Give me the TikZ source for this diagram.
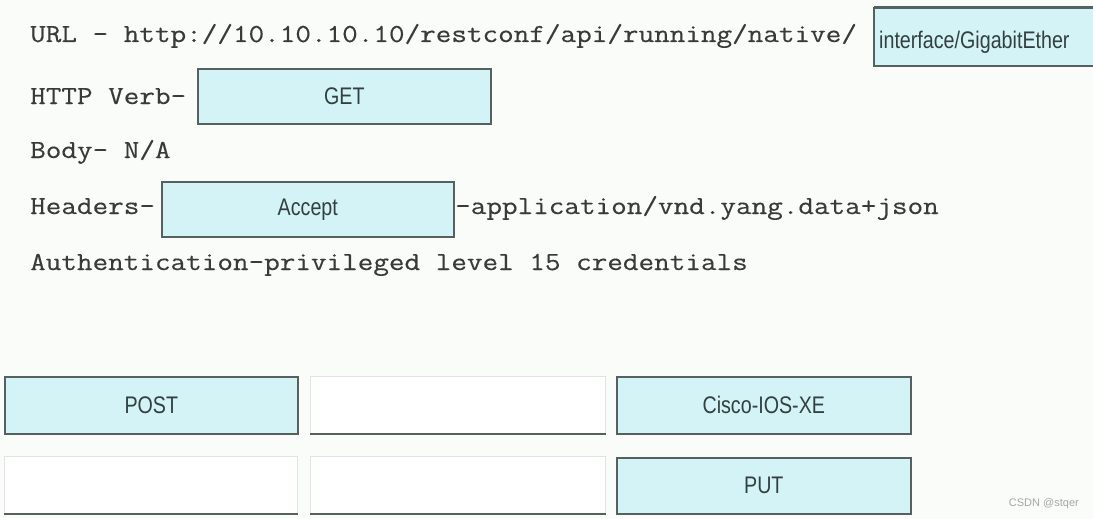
\documentclass[tikz,border=0pt]{standalone}
\usepackage{fontspec}
\setmonofont[FakeStretch=1.165,FakeBold=0.35]{Latin Modern Mono}
\newfontfamily\boxfont[FakeStretch=0.82]{Liberation Sans}
\newfontfamily\wmfont{Liberation Sans}
\definecolor{bgc}{HTML}{FAFCFA}
\definecolor{cyanfill}{HTML}{D3F3F7}
\definecolor{boxline}{HTML}{56605F}
\definecolor{txt}{HTML}{3A3A3A}
\definecolor{boxtxt}{HTML}{33403F}
\tikzset{
  lbl/.style={anchor=base west, inner sep=0pt, font=\fontsize{26}{26}\selectfont\ttfamily, text=txt},
  ans/.style={draw=boxline, line width=1.6pt, fill=cyanfill, minimum height=55pt, inner sep=0pt,
              font=\fontsize{24}{24}\selectfont\boxfont, text=boxtxt, anchor=north west},
  slot/.style={fill=white, draw=gray!22, line width=0.8pt, inner sep=0pt, anchor=north west, minimum height=57pt},
}
\begin{document}
\begin{tikzpicture}[x=1pt,y=-1pt]
\fill[bgc] (0,0) rectangle (1093,519);
\useasboundingbox (0,0) rectangle (1093,519);

% text lines
\node[lbl] (url) at (30,42) {URL - http://10.10.10.10/restconf/api/running/native/};
\node[lbl] (verb) at (30,104) {HTTP Verb-};
\node[lbl] (body) at (30,158) {Body- N/A};
\node[lbl] (hdr) at (30,214) {Headers-};
\node[lbl] (app) at (455,214) {-application/vnd.yang.data+json};
\node[lbl] (auth) at (30,270) {Authentication-privileged level 15 credentials};

% filled answer boxes in the statement
\begin{scope}
\clip (0,0) rectangle (1093,519);
\draw[boxline, line width=1.6pt, fill=cyanfill] (874,8) rectangle (1100,66);
\draw[boxline, line width=3pt] (874,8) -- (1100,8);
\node[anchor=west, inner sep=0pt, font=\fontsize{24}{24}\selectfont\boxfont, text=boxtxt] (intf) at (879,42) {interface/GigabitEther};
\end{scope}
\node[ans, minimum width=293pt] (get) at (197,68) {GET};
\node[ans, minimum width=292pt] (accept) at (161,181) {Accept};

% bottom choice area
\node[ans, minimum width=293pt, minimum height=57pt] (post) at (4,376) {POST};
\node[slot, minimum width=295pt] (e1) at (310,376) {};
\draw[boxline, line width=1.6pt] (e1.south west) -- (e1.south east);
\node[ans, minimum width=294pt, minimum height=57pt] (cisco) at (616,376) {Cisco-IOS-XE};

\node[slot, minimum width=293pt] (e2) at (4,456) {};
\draw[boxline, line width=1.6pt] (e2.south west) -- (e2.south east);
\node[slot, minimum width=295pt] (e3) at (310,456) {};
\draw[boxline, line width=1.6pt] (e3.south west) -- (e3.south east);
\node[ans, minimum width=294pt, minimum height=56pt] (put) at (616,457) {PUT};

\node[anchor=east, inner sep=0pt, font=\fontsize{11}{11}\selectfont\wmfont, text=gray!70] (wm) at (1079,504) {CSDN @stqer};
\end{tikzpicture}
\end{document}
